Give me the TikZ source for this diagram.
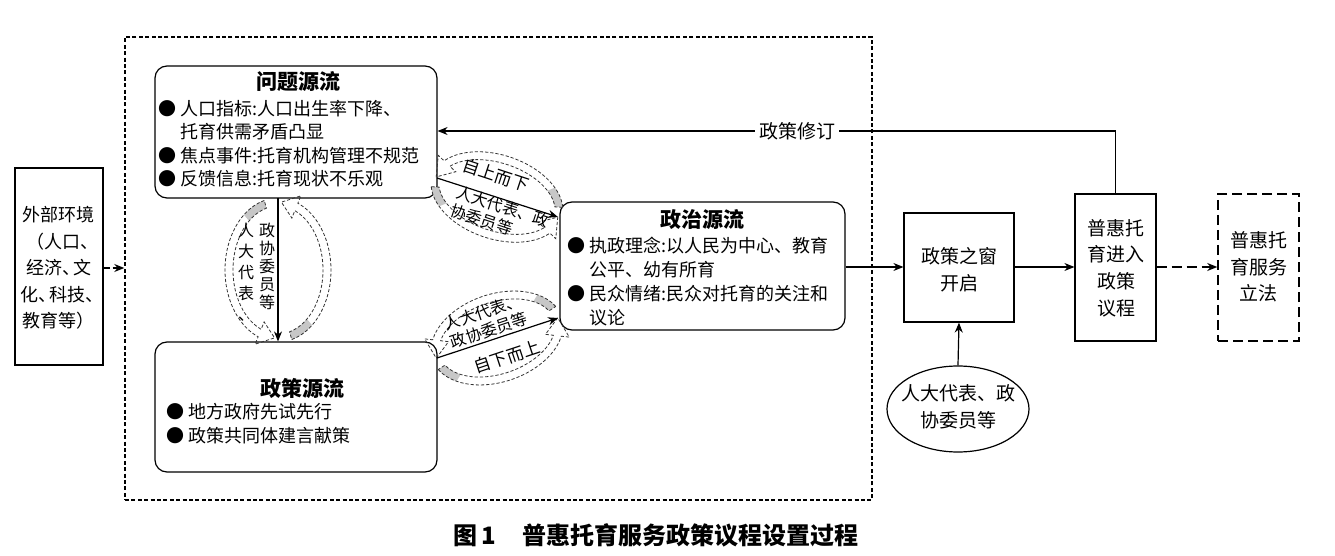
\documentclass[tikz,border=0pt]{standalone}
\usepackage{fontspec}
\setmainfont{Noto Sans CJK SC}
\usetikzlibrary{arrows.meta,shapes.geometric,calc}
\newcommand\dn{、\kern-.35em}
\newcommand\cycarc[6]{%
  \path[tailfill] ({(#1+4)*cos(#3)},{(#2+4)*sin(#3)}) arc[start angle=#3,end angle=#6,x radius=#1+4,y radius=#2+4]
    -- ({(#1-4)*cos(#6)},{(#2-4)*sin(#6)}) arc[start angle=#6,end angle=#3,x radius=#1-4,y radius=#2-4] -- cycle;
  \path[cyc] ({(#1+4)*cos(#3)},{(#2+4)*sin(#3)}) arc[start angle=#3,end angle=#4,x radius=#1+4,y radius=#2+4]
    -- ({(#1+12)*cos(#4)},{(#2+12)*sin(#4)}) -- ({#1*cos(#5)},{#2*sin(#5)}) -- ({(#1-12)*cos(#4)},{(#2-12)*sin(#4)})
    -- ({(#1-4)*cos(#4)},{(#2-4)*sin(#4)}) arc[start angle=#4,end angle=#3,x radius=#1-4,y radius=#2-4] -- cycle;
}
\begin{document}
\begin{tikzpicture}[x=0.5pt,y=-0.5pt,
  font=\fontsize{9}{12}\selectfont,
  box/.style={draw,line width=0.6pt,inner sep=0pt},
  rbox/.style={box,rounded corners=6pt},
  arr/.style={-{Stealth[length=5pt,width=4pt]},line width=0.6pt},
  cyc/.style={draw=black!80,dash pattern=on 1.6pt off 1pt,line width=0.4pt},
  tailfill/.style={fill=black!22},
  body/.style={font=\fontsize{9}{11.75}\selectfont,align=left,inner sep=0pt},
  ttl/.style={font=\fontsize{10.5}{12}\selectfont\bfseries,inner sep=0pt},
  lbl/.style={font=\fontsize{8}{9.5}\selectfont,inner sep=0pt,align=left},
  ctr/.style={align=center,inner sep=0pt,font=\fontsize{9.5}{13.3}\selectfont},
  bigdash/.style={dash pattern=on 5pt off 2.5pt,line width=0.75pt},
]
\useasboundingbox[fill=white] (0,0) rectangle (1335,556);
% frame
\node[draw,line width=0.7pt,dash pattern=on 2pt off 1.2pt,minimum width=373.5pt,minimum height=231.5pt] (frame) at (498.5,268.5) {};
% boxes
\node[box,minimum width=44pt,minimum height=98.5pt] (ext) at (59,266.5) {};
\node[ctr,font=\fontsize{9}{13.3}\selectfont] (exttxt) at (59,268) {外部环境\\（人口\dn\\经济\dn 文\\化\dn 科技\dn\\教育等）};
\node[rbox,minimum width=141pt,minimum height=66pt] (prob) at (296,132) {};
\node[ttl] (probt) at (298,82) {问题源流};
\node[body,anchor=west] (probb) at (158,143.5) {● 人口指标:人口出生率下降、\\\hphantom{● }托育供需矛盾凸显\\● 焦点事件:托育机构管理不规范\\● 反馈信息:托育现状不乐观};
\node[rbox,minimum width=141pt,minimum height=65pt] (pol) at (296,407) {};
\node[ttl] (polt) at (302,388) {政策源流};
\node[body,anchor=west] (polb) at (166,423.5) {● 地方政府先试先行\\● 政策共同体建言献策};
\node[rbox,minimum width=142.5pt,minimum height=64pt] (polit) at (702.5,266) {};
\node[ttl] (politt) at (702,220) {政治源流};
\node[body,anchor=west,font=\fontsize{9}{12}\selectfont] (politb) at (567,282) {● 执政理念:以人民为中心、教育\\\hphantom{● }公平、幼有所育\\● 民众情绪:民众对托育的关注和\\\hphantom{● }议论};
\node[box,minimum width=55pt,minimum height=54.5pt] (win) at (959,267.5) {};
\node[ctr] (wintxt) at (959,270) {政策之窗\\开启};
\node[box,minimum width=40.5pt,minimum height=73.5pt] (agenda) at (1115.5,267.5) {};
\node[ctr] (agtxt) at (1116,268) {普惠托\\育进入\\政策\\议程};
\node[box,bigdash,minimum width=40.5pt,minimum height=73.5pt] (law) at (1258.5,267.5) {};
\node[ctr] (lawtxt) at (1258.5,267) {普惠托\\育服务\\立法};
\node[draw,ellipse,line width=0.6pt,minimum width=71pt,minimum height=43pt,inner sep=0pt] (ell) at (958,409) {};
\node[ctr] (elltxt) at (958,407) {人大代表、政\\协委员等};
% coordinates
\coordinate (v1) at (278,198);
\coordinate (d1s) at (437,178);
\coordinate (d1e) at (558,217);
\coordinate (d2s) at (437,358);
\coordinate (d2e) at (558,318);
\coordinate (fb) at (1116,131);
% cycles
\begin{scope}[shift={(278,270)}]
  \cycarc{49}{68}{255}{112}{94}{230}
  \cycarc{49}{68}{75}{-68}{-86}{50}
\end{scope}
\begin{scope}[shift={(497,197)},rotate=-18.3]
  \cycarc{64}{38}{-15}{-155}{-180}{-40}
  \cycarc{64}{38}{165}{25}{0}{140}
\end{scope}
\begin{scope}[shift={(497,338)},rotate=18.4]
  \cycarc{64}{40}{-15}{-155}{-180}{-40}
  \cycarc{64}{40}{165}{25}{0}{140}
\end{scope}
% connectors
\draw[arr,dash pattern=on 3pt off 1.5pt] (ext.east |- 0,268) -- (frame.west |- 0,268);
\draw[arr] (v1) -- (v1 |- pol.north);
\draw[arr] (d1s) -- (d1e);
\draw[arr] (d2s) -- (d2e);
\draw[arr] (polit.east |- 0,267) -- (win.west |- 0,267);
\draw[arr] (win.east |- 0,267) -- (agenda.west |- 0,267);
\draw[arr,bigdash] (agenda.east |- 0,267) -- (law.west |- 0,267);
\draw[arr] (ell.north) -- (win.south);
\draw[arr] (agenda.north) |- (fb -| prob.east);
\node[fill=white,inner sep=2pt,font=\fontsize{9.5}{12}\selectfont] (rev) at (797,131) {政策修订};
% labels
\node[lbl,font=\fontsize{8.5}{10}\selectfont,rotate=-18.3] (l1) at (496,175) {自上而下};
\node[lbl,rotate=-18.3] (l2) at (500,216) {人大代表、政\\协委员等};
\node[lbl,rotate=18.4] (l3) at (486,321) {人大代表、\\政协委员等};
\node[lbl,font=\fontsize{8.5}{10}\selectfont,rotate=18.4] (l4) at (507,357) {自下而上};
\node[lbl,align=center,font=\fontsize{8}{10.5}\selectfont] (l5) at (246,272) {人\\大\\代\\表\\、};
\node[lbl,align=center,font=\fontsize{8}{9}\selectfont] (l6) at (267,266) {政\\协\\委\\员\\等};
% caption
\node[inner sep=0pt,font=\fontsize{12}{14}\selectfont\bfseries] (cap) at (656,535) {图\hspace{2pt}1\hspace{13pt}普惠托育服务政策议程设置过程};
\end{tikzpicture}
\end{document}
